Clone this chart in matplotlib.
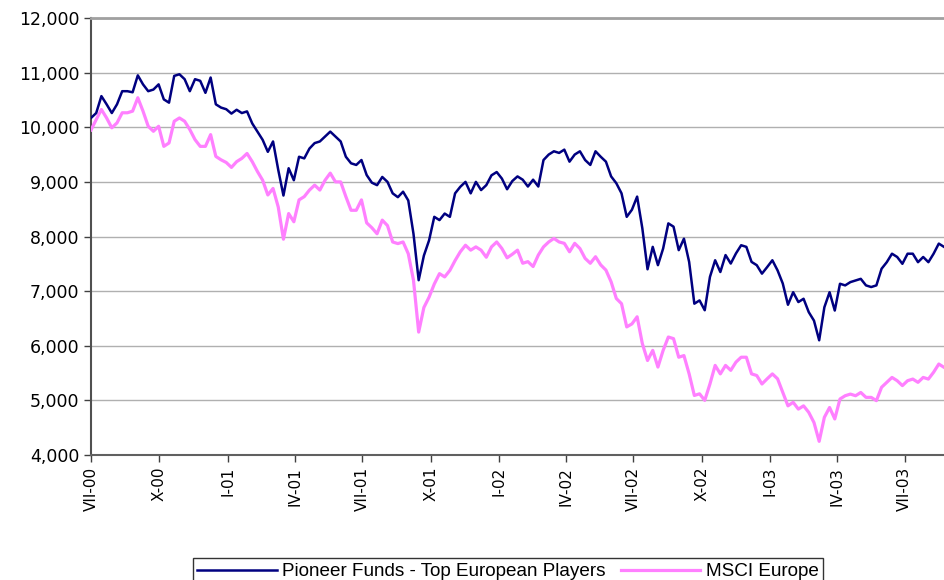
import matplotlib
matplotlib.use('Agg')
import matplotlib.pyplot as plt
import pandas as pd

# weekly readings, starting 1 July 2000
start = '2000-07-01'
pioneer = [
    10170, 10260, 10570, 10420, 10260, 10420, 10660, 10660, 10640, 10950,
    10785, 10660, 10690, 10785, 10510, 10450, 10940, 10970, 10880, 10660,
    10880, 10850, 10630, 10910, 10420, 10360, 10330, 10250, 10320, 10260,
    10290, 10070, 9920, 9770, 9550, 9740, 9220, 8750, 9250, 9030,
    9460, 9430, 9610, 9710, 9740, 9830, 9920, 9830, 9740, 9460,
    9340, 9310, 9400, 9125, 8985, 8940, 9090, 9000, 8790, 8720,
    8820, 8660, 8050, 7200, 7650, 7930, 8360, 8300, 8420, 8360,
    8790, 8910, 9000, 8790, 9000, 8850, 8940, 9120, 9180, 9060,
    8865, 9015, 9100, 9040, 8915, 9040, 8915, 9400, 9500, 9560,
    9530, 9590, 9370, 9500, 9560, 9400, 9310, 9560, 9460, 9370,
    9100, 8975, 8790, 8360, 8490, 8730, 8150, 7400, 7810, 7475,
    7780, 8240, 8180, 7750, 7960, 7535, 6770, 6830, 6650, 7260,
    7565, 7350, 7660, 7505, 7690, 7840, 7810, 7535, 7475, 7320,
    7440, 7565, 7380, 7140, 6750, 6980, 6800, 6860, 6615, 6460,
    6100, 6705, 6980, 6645, 7135, 7105, 7165, 7195, 7225, 7105,
    7075, 7105, 7410, 7530, 7685, 7625, 7500, 7685, 7685, 7530,
    7625, 7530, 7685, 7870, 7810,
]
msci = [
    9950, 10140, 10325, 10170, 9990, 10080, 10265, 10265, 10295, 10540,
    10295, 10018, 9926, 10018, 9650, 9712, 10110, 10170, 10110, 9957,
    9773, 9650, 9650, 9865, 9466, 9404, 9355, 9265, 9370, 9430,
    9520, 9370, 9190, 9030, 8760, 8880, 8540, 7950, 8420, 8270,
    8670, 8730, 8850, 8940, 8850, 9030, 9160, 9000, 9000, 8730,
    8480, 8480, 8670, 8250, 8160, 8050, 8300, 8200, 7900, 7870,
    7900, 7685, 7200, 6250, 6700, 6890, 7130, 7320, 7260, 7380,
    7560, 7720, 7840, 7750, 7810, 7750, 7620, 7810, 7900, 7780,
    7610, 7675, 7750, 7510, 7540, 7450, 7660, 7810, 7900, 7965,
    7900, 7875, 7720, 7875, 7780, 7600, 7510, 7630, 7480, 7385,
    7170, 6865, 6770, 6345, 6400, 6530, 6040, 5730, 5915, 5610,
    5915, 6160, 6130, 5790, 5820, 5485, 5090, 5120, 5000, 5300,
    5640, 5485, 5640, 5550, 5700, 5790, 5790, 5485, 5455, 5300,
    5395, 5485, 5395, 5150, 4900, 4965, 4840, 4900, 4780, 4595,
    4250, 4690, 4870, 4660, 5025, 5085, 5115, 5085, 5145, 5055,
    5055, 4995, 5240, 5330, 5420, 5360, 5270, 5360, 5390, 5330,
    5420, 5390, 5515, 5665, 5605,
]
tick_dates = ['2000-07-01', '2000-10-01', '2001-01-01', '2001-04-01',
              '2001-07-01', '2001-10-01', '2002-01-01', '2002-04-01',
              '2002-07-01', '2002-10-01', '2003-01-01', '2003-04-01',
              '2003-07-01']
tick_labels = ['VII-00', 'X-00', 'I-01', 'IV-01', 'VII-01', 'X-01', 'I-02',
               'IV-02', 'VII-02', 'X-02', 'I-03', 'IV-03', 'VII-03']

dates = pd.date_range(start, periods=len(pioneer), freq='7D')

fig = plt.figure(figsize=(9.44, 5.8), dpi=100)
ax = fig.add_axes([91 / 944, 1 - 455 / 580, 1 - 91 / 944, (455 - 18) / 580])

ax.plot(dates, msci, color='#ff80ff', lw=2.3, label='MSCI Europe', zorder=3)
ax.plot(dates, pioneer, color='#000080', lw=1.8,
        label='Pioneer Funds - Top European Players', zorder=4)

ax.set_ylim(4000, 12000)
ax.set_yticks(range(4000, 12001, 1000))
ax.set_yticklabels([f'{v:,}' for v in range(4000, 12001, 1000)], fontsize=12.5)
ax.yaxis.grid(True, color='#b0b0b0', lw=1)
ax.set_axisbelow(True)

ax.set_xlim(pd.Timestamp(start), pd.Timestamp('2003-08-23'))
ax.set_xticks(pd.to_datetime(tick_dates))
ax.set_xticklabels(tick_labels, rotation=90, fontsize=11)

ax.spines['right'].set_visible(False)
ax.spines['top'].set_color('#a0a0a0')
ax.spines['top'].set_linewidth(2)
ax.spines['left'].set_color('#505050')
ax.spines['bottom'].set_color('#606060')
ax.spines['left'].set_linewidth(1.5)
ax.spines['bottom'].set_linewidth(1.5)
ax.tick_params(direction='out', length=5, color='#404040', width=1)

handles, labels = ax.get_legend_handles_labels()
leg = fig.legend(handles[::-1], labels[::-1], loc='upper center',
                 bbox_to_anchor=(508 / 944, 1 - 549 / 580), ncol=2,
                 frameon=True, fancybox=False, edgecolor='black',
                 handlelength=4.2, columnspacing=0.8, handletextpad=0.3,
                 borderpad=0.25, prop={'family': 'Liberation Sans', 'size': 13.6})
leg.get_frame().set_linewidth(1)

fig.savefig('out.png', dpi=100)
